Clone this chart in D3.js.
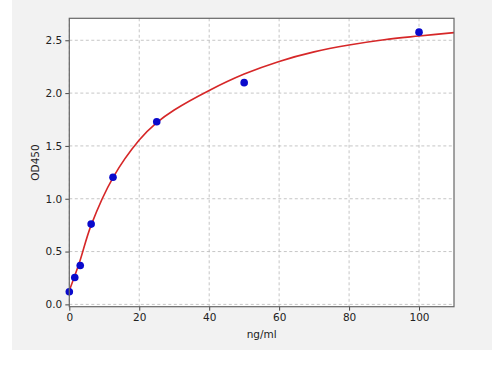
<!DOCTYPE html>
<html>
<head>
<meta charset="utf-8">
<script src="https://cdn.jsdelivr.net/npm/d3@7"></script>
<style>
  body { margin: 0; background: #ffffff; }
  text { font-family: "DejaVu Sans", sans-serif; fill: #222; }
</style>
</head>
<body>
<div id="chart"></div>
<script>
// standard points
const conc = [0, 1.5625, 3.125, 6.25, 12.5, 25, 50, 100];
const od = [0.119, 0.255, 0.368, 0.76, 1.203, 1.729, 2.099, 2.577];

// fitted curve
const curveX = [0, 1.5625, 3.125, 6.25, 12.5, 20, 25, 30, 40, 50, 60, 70, 80, 90, 100, 110];
const curveY = [0.13, 0.27, 0.42, 0.75, 1.20, 1.555, 1.72, 1.84, 2.025, 2.18, 2.30, 2.39, 2.455, 2.505, 2.54, 2.572];

const xTicks = [0, 20, 40, 60, 80, 100];
const yTicks = [0.0, 0.5, 1.0, 1.5, 2.0, 2.5];

const width = 494, height = 366;
const margin = { top: 18.3, right: 40, bottom: 59.3, left: 69.3 };
const plotW = width - margin.left - margin.right;
const plotH = height - margin.top - margin.bottom;

const svg = d3.select("#chart").append("svg")
    .attr("width", width)
    .attr("height", height);

// figure background
svg.append("rect")
    .attr("x", 12).attr("y", 0)
    .attr("width", 480).attr("height", 350)
    .attr("fill", "#f2f2f2");

const g = svg.append("g")
    .attr("transform", `translate(${margin.left},${margin.top})`);

const x = d3.scaleLinear().domain([0, 110]).range([0, plotW]);
const y = d3.scaleLinear().domain([-0.022, 2.708]).range([plotH, 0]);

g.append("rect")
    .attr("width", plotW).attr("height", plotH)
    .attr("fill", "#ffffff");

// grid
g.selectAll(".vgrid")
    .data(xTicks)
    .enter()
    .append("line")
    .attr("x1", d => x(d)).attr("x2", d => x(d))
    .attr("y1", 0).attr("y2", plotH)
    .attr("stroke", "#b8b8b8")
    .attr("stroke-width", 0.8)
    .attr("stroke-dasharray", "3,2.5");

g.selectAll(".hgrid")
    .data(yTicks)
    .enter()
    .append("line")
    .attr("x1", 0).attr("x2", plotW)
    .attr("y1", d => y(d)).attr("y2", d => y(d))
    .attr("stroke", "#b8b8b8")
    .attr("stroke-width", 0.8)
    .attr("stroke-dasharray", "3,2.5");

// axes
const xAxis = g.append("g")
    .attr("transform", `translate(0,${plotH})`)
    .call(d3.axisBottom(x).tickValues(xTicks).tickSize(4).tickPadding(3).tickFormat(d3.format("d")));

const yAxis = g.append("g")
    .call(d3.axisLeft(y).tickValues(yTicks).tickSize(4).tickPadding(3).tickFormat(d3.format(".1f")));

[xAxis, yAxis].forEach(a => {
    a.select(".domain").remove();
    a.selectAll(".tick line").attr("stroke", "#333").attr("stroke-width", 0.9);
    a.selectAll(".tick text")
        .style("font-family", "DejaVu Sans, sans-serif")
        .style("font-size", "10.5px")
        .attr("fill", "#222");
});

// fitted curve
const curvePts = curveX.map((d, i) => [d, curveY[i]]);
const line = d3.line()
    .x(d => x(d[0]))
    .y(d => y(d[1]))
    .curve(d3.curveCatmullRom.alpha(0.5));

g.append("path")
    .datum(curvePts)
    .attr("d", line)
    .attr("fill", "none")
    .attr("stroke", "#d62728")
    .attr("stroke-width", 1.6);

// points
g.selectAll(".pt")
    .data(conc)
    .enter()
    .append("circle")
    .attr("cx", d => x(d))
    .attr("cy", (d, i) => y(od[i]))
    .attr("r", 3.8)
    .attr("fill", "#0a0acc");

// frame
g.append("rect")
    .attr("width", plotW).attr("height", plotH)
    .attr("fill", "none")
    .attr("stroke", "#666")
    .attr("stroke-width", 1.2);

// labels
svg.append("text")
    .text("ng/ml")
    .attr("x", margin.left + plotW / 2)
    .attr("y", 338)
    .attr("text-anchor", "middle")
    .style("font-size", "10.5px");

svg.append("text")
    .text("OD450")
    .attr("transform", `translate(39,${margin.top + plotH / 2}) rotate(-90)`)
    .attr("text-anchor", "middle")
    .style("font-size", "10.5px");
</script>
</body>
</html>
